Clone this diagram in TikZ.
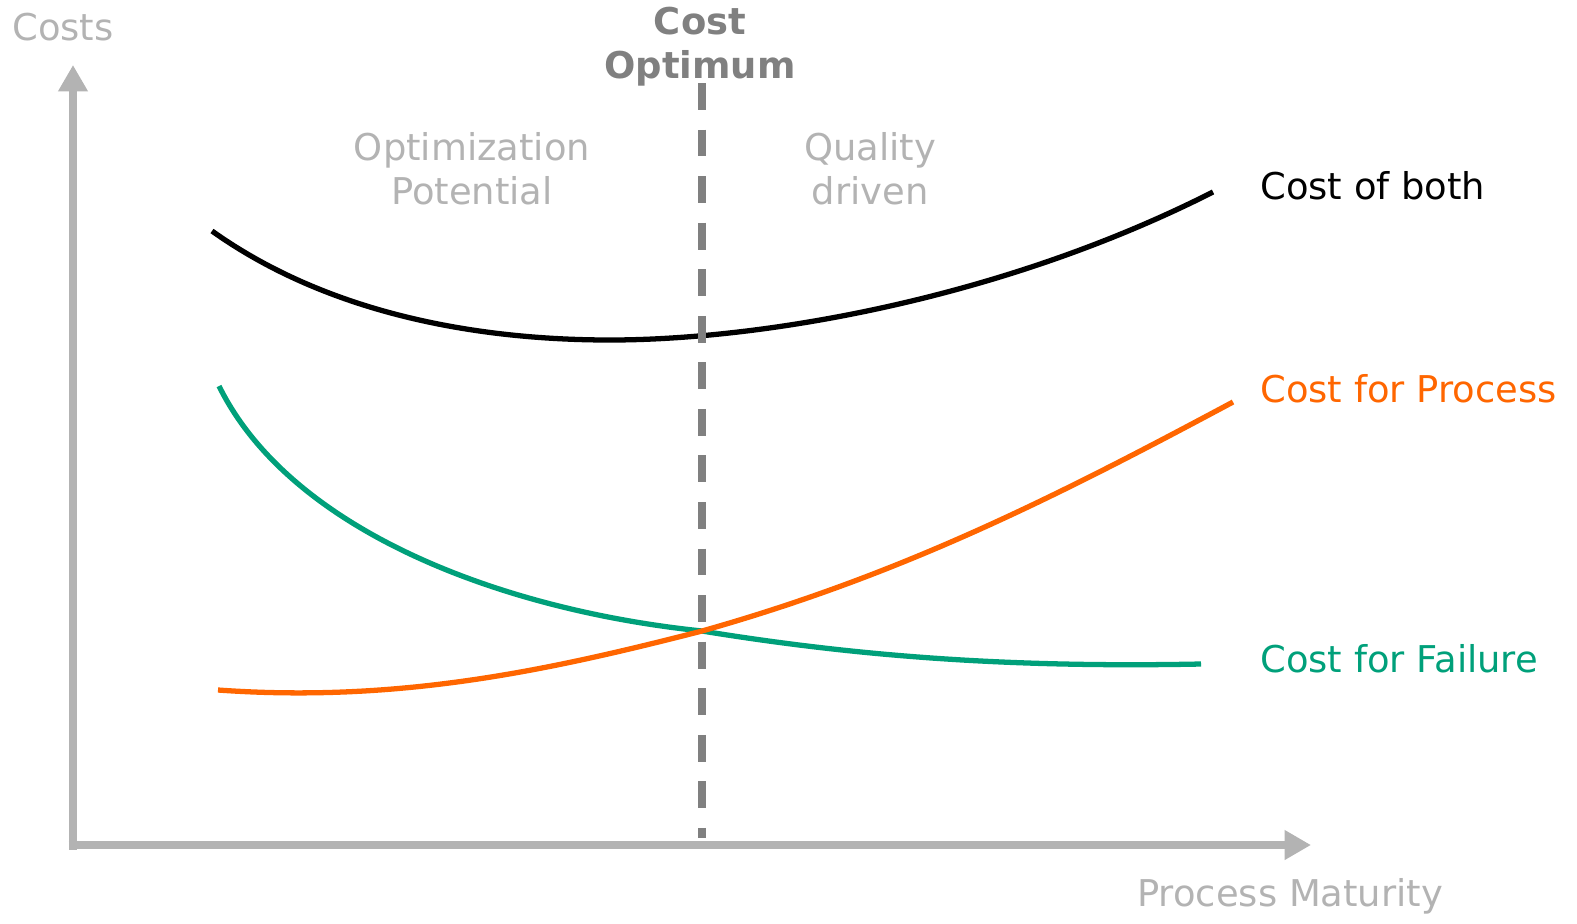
\documentclass[tikz,border=0pt]{standalone}
\usepackage{fontspec}
\setmainfont{DejaVu Sans}
\usepackage{tikz}
\usetikzlibrary{positioning}
\usetikzlibrary{arrows.meta}
\usepackage{xcolor}

\definecolor{axisgray}{HTML}{B3B3B3}
\definecolor{optgray}{HTML}{808080}
\definecolor{procorange}{HTML}{FF6600}
\definecolor{failgreen}{HTML}{00A07A}

\tikzset{
  lbl/.style={font=\fontsize{21}{25}\selectfont, inner sep=0pt},
  axis/.style={line width=5.1pt, axisgray, -{Triangle[width=16pt, length=15pt]}},
  curve/.style={line width=3pt}
}

\begin{document}
\begin{tikzpicture}[x=0.02cm, y=-0.02cm]
  \useasboundingbox (0,0) rectangle (1577,923);
  % axes
  \coordinate (origin) at (73,845);
  \coordinate (ytip) at (73,65);
  \coordinate (xtip) at (1311,845);
  \draw[axis] (73,849.5) -- (ytip);
  \draw[axis] (68.5,845) -- (xtip);
  \node (ylab) [lbl, axisgray, anchor=west] at (12,27) {Costs};
  \node (xlab) [lbl, axisgray, anchor=west] at (1137,896) {Process Maturity};

  % curves
  \draw[curve, black] (212,231) .. controls (330,315) and (480,340) .. (610,340)
    .. controls (760,340) and (1000,300) .. (1213,192);
  \draw[curve, failgreen] (219,386) .. controls (290,530) and (500,610) .. (702,631)
    .. controls (850,655) and (1000,668) .. (1201,664);
  \draw[curve, procorange] (218,690) .. controls (400,703) and (550,670) .. (702,631)
    .. controls (900,575) and (1050,500) .. (1233,402);

  % optimum
  \coordinate (opttop) at (702,83);
  \coordinate (optbot) at (702,838);
  \draw[line width=4pt, optgray, dash pattern=on 15.3pt off 11.2pt] (opttop) -- (optbot);
  \node (optlab) [lbl, optgray, align=center, font=\fontsize{21}{25}\selectfont\bfseries] at (700,47) {Cost\\Optimum};
  \node (potlab) [lbl, axisgray, align=center] at (472,169) {Optimization\\Potential};
  \node (qualab) [lbl, axisgray, align=center] at (870,169) {Quality\\driven};

  \node (both) [lbl, black, anchor=west] at (1260,186) {Cost of both};
  \node (proc) [lbl, procorange, anchor=west] at (1260,389) {Cost for Process};
  \node (fail) [lbl, failgreen, anchor=west] at (1260,659) {Cost for Failure};
\end{tikzpicture}
\end{document}
